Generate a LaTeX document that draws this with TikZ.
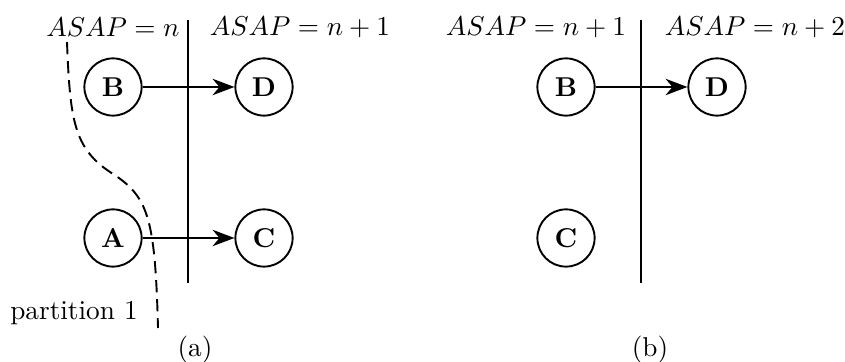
\documentclass[tikz,border=0pt]{standalone}
\usepackage{tikz}
\usetikzlibrary{arrows.meta}
\tikzset{
  opnode/.style={draw, circle, minimum size=21pt, inner sep=0pt, font=\bfseries, line width=0.7pt},
  arrow/.style={-{Stealth[length=8pt, width=6pt, inset=2.5pt]}, line width=0.7pt},
  stageline/.style={line width=0.7pt},
  partline/.style={line width=0.7pt, dash pattern=on 4.5pt off 2.5pt},
  caption/.style={font=\normalsize}
}

\begin{document}
\begin{tikzpicture}[x=0.0129cm, y=-0.0129cm]
  \useasboundingbox (0,0) rectangle (845,362);

  % (a)
  \node (asapA1) at (113,27) {$ASAP=n$};
  \node (asapA2) at (300,27) {$ASAP=n+1$};
  \coordinate (sepAtop) at (188,20);
  \coordinate (sepAbot) at (188,283);
  \draw[stageline] (sepAtop) -- (sepAbot);

  \node[opnode] (bA) at (113,87) {B};
  \node[opnode] (dA) at (264,87) {D};
  \node[opnode] (aA) at (113,238) {A};
  \node[opnode] (cA) at (264,238) {C};
  \draw[arrow] (bA) -- (dA);
  \draw[arrow] (aA) -- (cA);

  \coordinate (partTop) at (67,42);
  \coordinate (partBot) at (158,328);
  \draw[partline] (partTop) .. controls (70,120) and (74,148) .. (110,172)
    .. controls (148,196) and (155,215) .. (partBot);
  \node (part) at (74,313) {partition 1};
  \node[caption] (capA) at (195,350) {(a)};

  % (b)
  \node (asapB1) at (536,27) {$ASAP=n+1$};
  \node (asapB2) at (755,27) {$ASAP=n+2$};
  \coordinate (sepBtop) at (641,20);
  \coordinate (sepBbot) at (641,283);
  \draw[stageline] (sepBtop) -- (sepBbot);

  \node[opnode] (bB) at (566,87) {B};
  \node[opnode] (dB) at (717,87) {D};
  \node[opnode] (cB) at (566,238) {C};
  \draw[arrow] (bB) -- (dB);
  \node[caption] (capB) at (650,350) {(b)};
\end{tikzpicture}
\end{document}
